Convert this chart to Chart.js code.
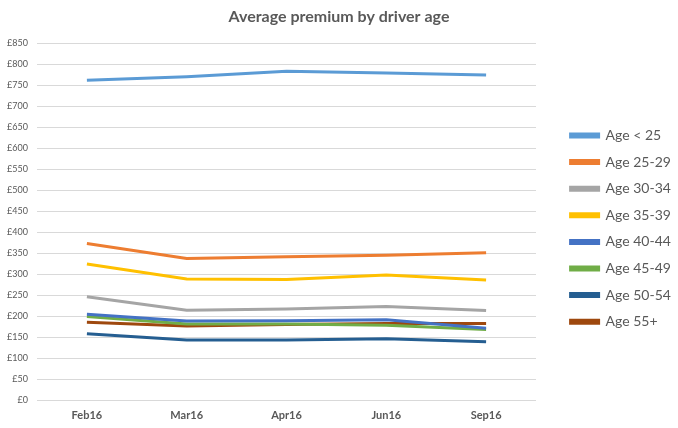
<!DOCTYPE html>
<html>
<head>
<meta charset="utf-8">
<script src="https://cdn.jsdelivr.net/npm/chart.js@4"></script>
<style>
  html, body { margin: 0; padding: 0; background: #fff; }
  #wrap { width: 678px; height: 428px; }
</style>
</head>
<body>
<div id="wrap"><canvas id="c" width="678" height="428"></canvas></div>
<script>
const categories = ["Feb16", "Mar16", "Apr16", "Jun16", "Sep16"];
const seriesNames = ["Age < 25", "Age 25-29", "Age 30-34", "Age 35-39", "Age 40-44", "Age 45-49", "Age 50-54", "Age 55+"];
const ageUnder25 = [762, 770, 783, 779, 774];
const age25to29 = [373, 337, 341, 345, 351];
const age30to34 = [246, 214, 217, 223, 213];
const age35to39 = [324, 288, 287, 298, 286];
const age40to44 = [204, 188, 189, 191, 171];
const age45to49 = [199, 181, 181, 178, 168];
const age50to54 = [158, 143, 143, 146, 139];
const age55plus = [185, 176, 180, 182, 182];
const seriesColors = ["#5B9BD5", "#ED7D31", "#A5A5A5", "#FFC000", "#4472C4", "#70AD47", "#255E91", "#9E480E"];
const yTickValues = [0, 50, 100, 150, 200, 250, 300, 350, 400, 450, 500, 550, 600, 650, 700, 750, 800, 850];

const seriesValues = [ageUnder25, age25to29, age30to34, age35to39, age40to44, age45to49, age50to54, age55plus];
const textColor = "#595959";
const fam = "Lato, 'Open Sans', 'Liberation Sans', sans-serif";

const datasets = seriesNames.map((name, i) => ({
  label: name,
  data: seriesValues[i],
  borderColor: seriesColors[i],
  backgroundColor: seriesColors[i],
  borderWidth: 3,
  pointRadius: 0,
  pointHoverRadius: 0,
  tension: 0,
  fill: false,
  yAxisID: 'y'
}));

const legendWidenPlugin = {
  id: 'legendWiden',
  beforeLayout(chart) {
    const lg = chart.legend;
    if (lg && !lg._widened) {
      const origFit = lg.fit;
      lg.fit = function () { origFit.call(this); this.width += 7; };
      lg._widened = true;
    }
  }
};

new Chart(document.getElementById('c'), {
  type: 'line',
  data: { labels: categories, datasets },
  plugins: [legendWidenPlugin],
  options: {
    responsive: false,
    animation: false,
    devicePixelRatio: 1,
    layout: { padding: 0 },
    plugins: {
      title: {
        display: true,
        text: "Average premium by driver age",
        color: textColor,
        font: { family: fam, size: 16, weight: 'bold' },
        padding: { top: 7, bottom: 17 }
      },
      legend: {
        display: true,
        position: 'right',
        align: 'center',
        fullSize: false,
        title: { display: true, text: ' ', font: { family: fam, size: 10, lineHeight: 1 }, padding: 2 },
        labels: {
          color: textColor,
          font: { family: fam, size: 14 },
          boxWidth: 28,
          boxHeight: 3,
          padding: 12.6
        }
      },
      tooltip: { enabled: false }
    },
    scales: {
      x: {
        offset: true,
        grid: { display: false, drawTicks: false },
        border: { display: false },
        ticks: { color: textColor, font: { family: fam, size: 11, weight: 'bold' }, padding: 9 },
        afterFit(s) { s.height = 28; }
      },
      y: {
        min: 0,
        max: 850,
        afterBuildTicks(s) { s.ticks = yTickValues.map(v => ({ value: v })); },
        grid: { color: "#D9D9D9", lineWidth: 1, drawTicks: false },
        border: { display: false },
        ticks: {
          color: textColor,
          font: { family: fam, size: 9 },
          padding: 9,
          callback: v => "£" + v
        },
        afterFit(s) { s.width = 37; }
      },
      y2: {
        position: 'right',
        display: true,
        grid: { display: false, drawTicks: false },
        border: { display: false },
        ticks: { display: false },
        afterFit(s) { s.width = 22; }
      }
    }
  }
});
</script>
</body>
</html>
